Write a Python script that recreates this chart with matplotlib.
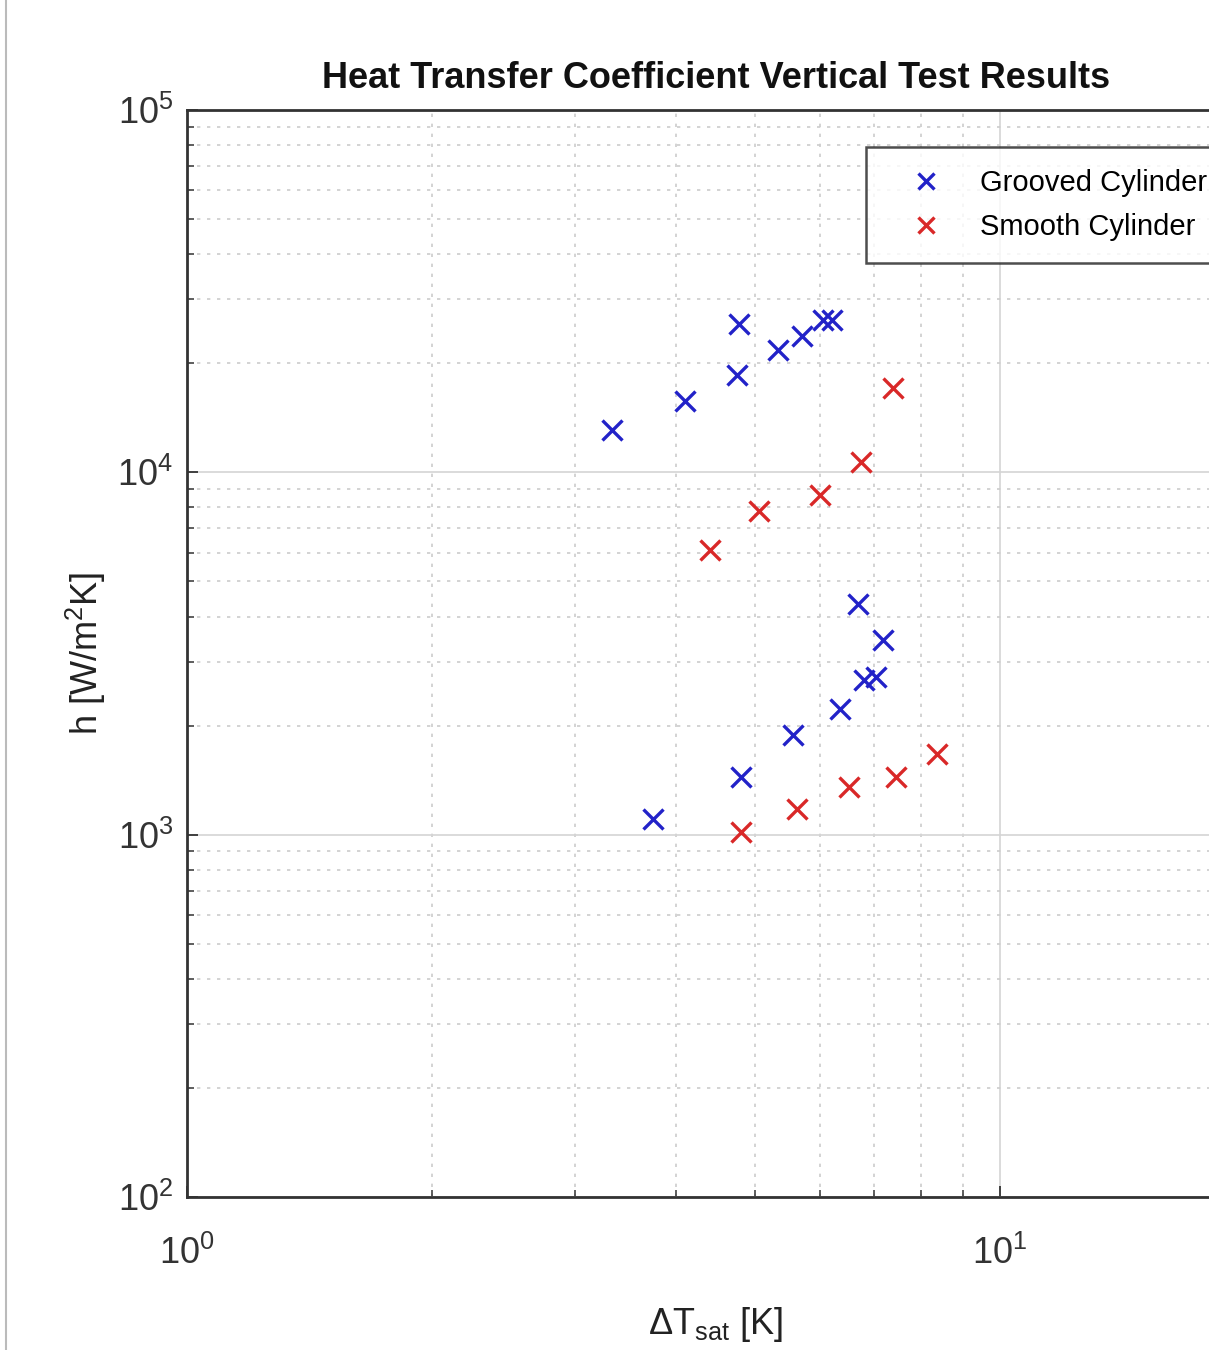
import numpy as np
import matplotlib
matplotlib.use('Agg')
import matplotlib.pyplot as plt
from matplotlib.lines import Line2D
from matplotlib.ticker import LogLocator, NullFormatter

# grooved cylinder (blue) : delta T_sat [K], h [W/m^2K]
grooved_dt = [3.33, 4.10, 4.75, 4.77, 5.33, 5.71, 6.06, 6.21,
              3.74, 4.80, 5.57, 6.36, 6.80, 7.04, 7.18, 6.69]
grooved_h = [13060, 15710, 18530, 25640, 21730, 23760, 26300, 26300,
             1107, 1446, 1889, 2228, 2680, 2720, 3435, 4318]

# smooth cylinder (red)
smooth_dt = [4.40, 5.05, 6.01, 6.75, 7.39, 4.80, 5.63, 6.52, 7.45, 8.37]
smooth_h = [6087, 7805, 8640, 10660, 17060, 1019, 1180, 1357, 1446, 1674]

plt.rcParams['font.family'] = ['Liberation Sans', 'DejaVu Sans']
plt.rcParams['mathtext.fontset'] = 'custom'
plt.rcParams['mathtext.rm'] = 'Liberation Sans'
plt.rcParams['mathtext.it'] = 'Liberation Sans'

W, H = 1209, 1350
fig = plt.figure(figsize=(W / 100, H / 100), dpi=100)
x_dec = 813.0
xmax_log = 1.3
ax_w = xmax_log * x_dec
ax = fig.add_axes([187 / W, (H - 1197) / H, ax_w / W, (1197 - 110) / H])

ax.plot(grooved_dt, grooved_h, 'x', color='#2222c8', ms=14, mew=2.4, label='Grooved Cylinder')
ax.plot(smooth_dt, smooth_h, 'x', color='#d92828', ms=14, mew=2.4, label='Smooth Cylinder')

ax.set_xscale('log')
ax.set_yscale('log')
ax.set_xlim(1, 10 ** xmax_log)
ax.set_ylim(1e2, 1e5)

ax.xaxis.set_minor_locator(LogLocator(base=10, subs=np.arange(2, 10)))
ax.yaxis.set_minor_locator(LogLocator(base=10, subs=np.arange(2, 10)))
ax.xaxis.set_minor_formatter(NullFormatter())
ax.yaxis.set_minor_formatter(NullFormatter())

ax.grid(True, which='major', color='#d4d4d4', linestyle='-', linewidth=1.2)
ax.grid(True, which='minor', color='#cccccc', linestyle=(0, (2, 4)), linewidth=1.2)
ax.set_axisbelow(True)

ax.tick_params(which='both', direction='in', top=False, right=False, colors='#333333')
ax.tick_params(which='major', length=8, width=1.3, labelsize=26)
ax.tick_params(axis='y', which='major', pad=10)
ax.tick_params(axis='x', which='major', pad=28)
ax.tick_params(which='minor', length=5, width=1.1)
for s in ax.spines.values():
    s.set_color('#333333')
    s.set_linewidth(2)

ax.set_title('Heat Transfer Coefficient Vertical Test Results',
             fontsize=26, fontweight='bold', pad=16, color='#111111',
             x=(716 - 187) / ax_w)
ax.set_ylabel('h [W/m$^2$K]', fontsize=26, color='#222222')
ax.yaxis.set_label_coords(-(187 - 108) / ax_w, 0.5)
ax.set_xlabel(r'$\Delta$T$_{\rm sat}$ [K]', fontsize=26, color='#222222')
ax.xaxis.set_label_coords((715 - 187) / ax_w, -(1325 - 1197) / (1197 - 110), transform=ax.transAxes)
ax.xaxis.label.set_va('center')

leg = ax.legend(loc='upper left',
                bbox_to_anchor=((866 - 187) / ax_w, 1 - (147 - 110) / (1197 - 110)),
                borderaxespad=0, fontsize=21, frameon=True, fancybox=False,
                edgecolor='#222222', handletextpad=0.55, borderpad=0.75,
                labelspacing=0.55, handlelength=2.6, markerscale=0.85)
leg.get_frame().set_linewidth(1.8)

fig.add_artist(Line2D([6 / W, 6 / W], [0, 1], color='#bbbbbb', lw=1.5))

fig.savefig('out.png', dpi=100)
